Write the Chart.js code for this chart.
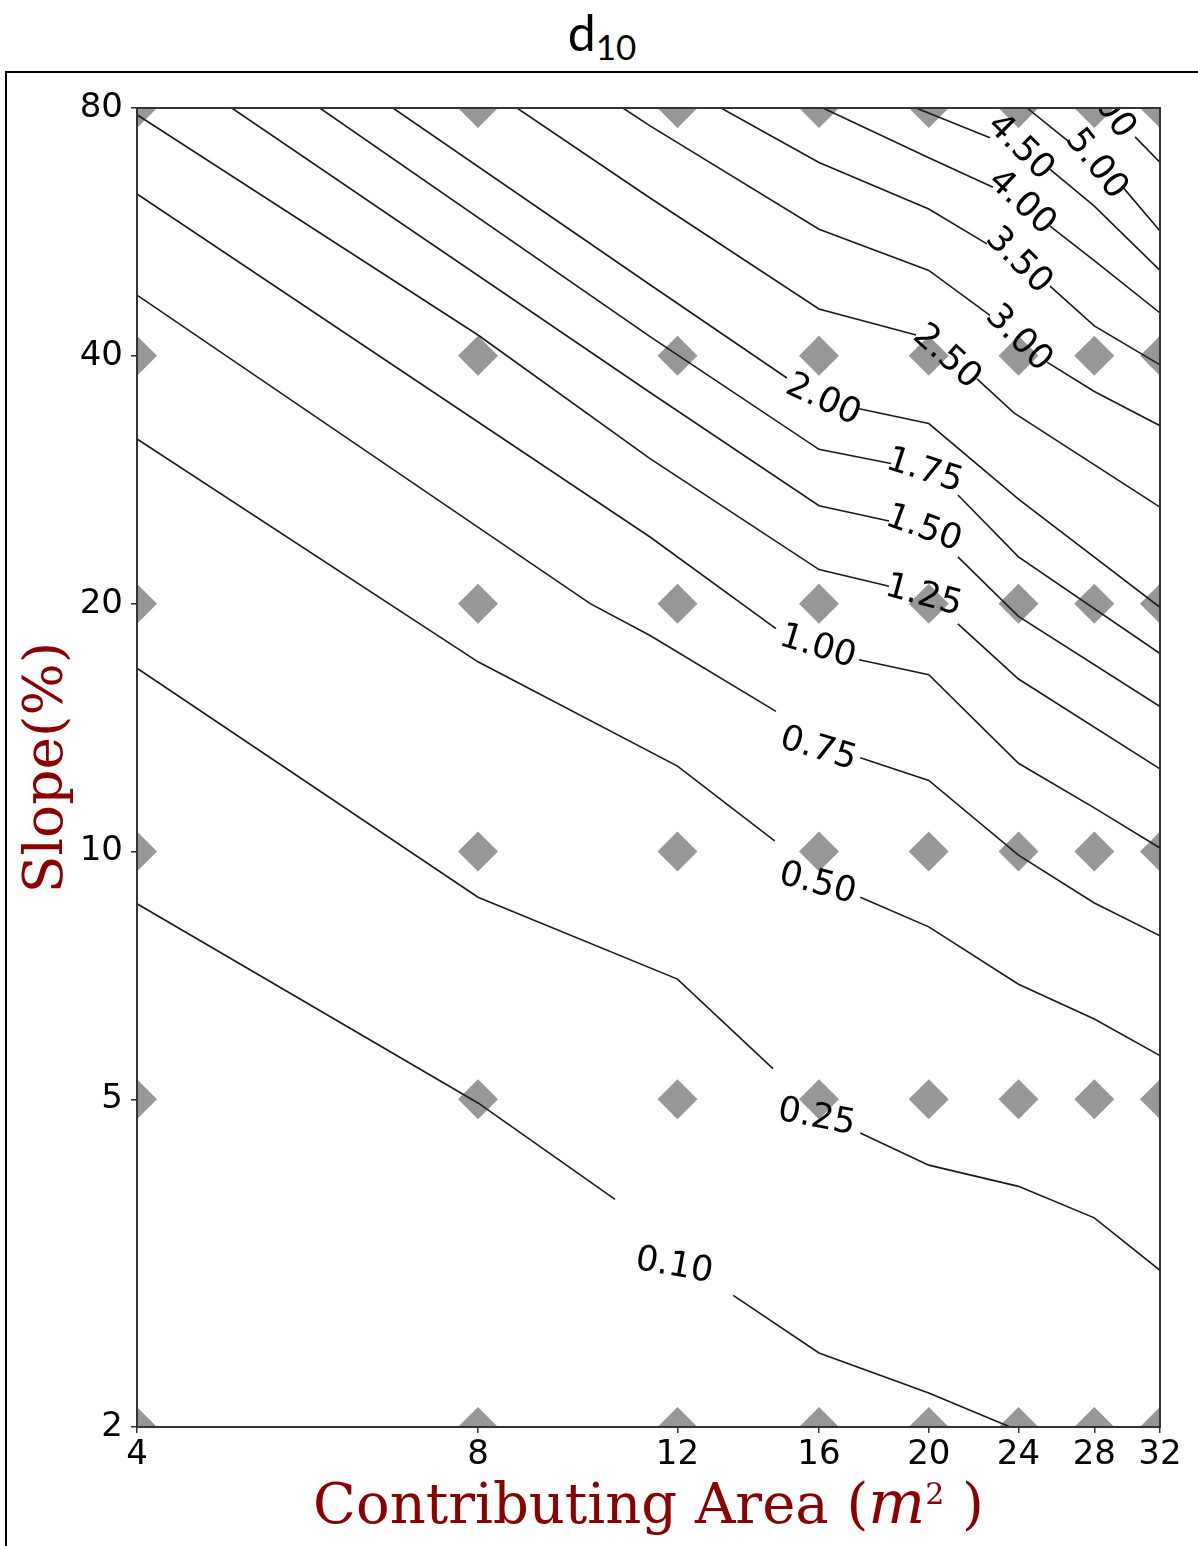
<!DOCTYPE html>
<html>
<head>
<meta charset="utf-8">
<script src="https://cdn.jsdelivr.net/npm/chart.js@4.4.1/dist/chart.umd.min.js"></script>
<style>
  html, body { margin: 0; padding: 0; background: #fff; width: 1198px; height: 1546px; overflow: hidden; position: relative; }
  #title { position: absolute; left: 0; width: 1204px; top: 2px; text-align: center; font-family: Lato, "Open Sans", sans-serif; font-size: 50px; line-height: 60px; color: #000; }
  #title .sub { font-size: 35px; position: relative; top: 9px; }
  #frame { position: absolute; left: 5px; top: 71px; width: 1400px; height: 1600px; border-top: 2px solid #000; border-left: 2px solid #000; }
  #chart { position: absolute; left: 0; top: 0; }
</style>
</head>
<body>
<div id="title">d<span class="sub">10</span></div>
<div id="frame"></div>
<canvas id="chart" width="1198" height="1546"></canvas>
<script>
// axes
const areaTicks = [4, 8, 12, 16, 20, 24, 28, 32];
const slopeTicks = [2, 5, 10, 20, 40, 80];

// sample points (grey diamonds)
const areaGrid = [4, 8, 12, 16, 20, 24, 28, 32];
const slopeGrid = [2, 5, 10, 20, 40, 80];

// contour levels of d10
const levels = ['0.10', '0.25', '0.50', '0.75', '1.00', '1.25', '1.50', '1.75', '2.00', '2.50', '3.00', '3.50', '4.00', '4.50', '5.00', '6.00'];

// contour vertices as [area, slope]; null = where the inline label cuts the line
const c010 = [[4, 8.64], [8, 4.95], [10.57, 3.78], null, [13.44, 2.89], [16, 2.46], [20, 2.20], [23.6, 2.0]];
const c025 = [[4, 16.7], [8, 8.8], [12, 7.0], [14.57, 5.45], null, [17.4, 4.55], [20, 4.16], [24, 3.92], [28, 3.59], [32, 3.10]];
const c050 = [[4, 31.7], [8, 17.0], [12, 12.7], [14.62, 10.3], null, [17.4, 8.8], [20, 8.1], [24, 6.9], [28, 6.26], [32, 5.65]];
const c075 = [[4, 47.4], [10.05, 20.0], [11.35, 18.3], [14.66, 14.8], null, [17.4, 13.0], [20, 12.2], [24, 9.9], [28, 8.66], [32, 7.9]];
const c100 = [[4, 62.9], [11.35, 24.1], [14.66, 18.65], null, [17.36, 17.1], [20, 16.4], [24, 12.8], [28, 11.3], [32, 10.1]];
const c125 = [[4, 78.5], [8, 42.4], [11.35, 30.0], [16, 22.0], [18.45, 21.0], null, [21.22, 18.9], [24, 16.2], [32, 12.6]];
const c150 = [[4.85, 80], [11.35, 36.1], [16, 26.3], [18.45, 25.2], null, [21.22, 22.8], [24, 19.3], [32, 15.0]];
const c175 = [[5.80, 80], [11.35, 42.2], [16, 30.8], [18.52, 29.6], null, [21.22, 27.1], [24, 22.8], [32, 17.4]];
const c200 = [[6.73, 80], [11.35, 48.8], [14.99, 37.6], null, [17.36, 34.5], [20, 33.1], [24, 26.8], [32, 19.8]];
const c250 = [[8.66, 80], [11.35, 62.2], [16, 45.6], [19.49, 42.4], null, [22.06, 37.5], [23.78, 34.1], [32, 26.2]];
const c300 = [[10.74, 80], [11.35, 76.1], [16, 57.0], [20, 50.8], [22.65, 44.8], null, [25.43, 39.3], [28, 36.2], [32, 32.9]];
const c350 = [[13.11, 80], [16, 68.7], [20, 60.3], [22.51, 54.7], null, [25.59, 48.6], [28, 43.5], [32, 39.0]];
const c400 = [[16.13, 80], [20, 69.6], [22.79, 64.1], null, [25.59, 57.5], [28, 52.2], [32, 45.1]];
const c450 = [[19.49, 80], [22.65, 73.6], null, [25.59, 67.4], [28, 60.8], [32, 50.8]];
const c500 = [[24.42, 80], [26.65, 72.6], null, [29.62, 64.3], [32, 56.7]];
const c600 = [[26.9, 89.1], null, [30.42, 73.8], [32, 68.7]];

const contours = [c010, c025, c050, c075, c100, c125, c150, c175, c200, c250, c300, c350, c400, c450, c500, c600];

// label look: rotation (deg) and small vertical nudge (px)
const labelAngle = [10, 11, 15, 17, 17, 15, 20, 18, 25, 42, 45, 45, 43, 45, 52, 55];
const labelNudge = [19, 17, 15, 15, 3, -9, -10, -8, 7, 0, 0, -4, -4, -6, 0, 0];

const RED = '#8b0000';
const SPINE = '#333';

const markers = slopeGrid.flatMap(s => areaGrid.map(a => ({ x: a, y: s })));

const datasets = [{
  data: markers,
  pointStyle: 'rectRot',
  pointRadius: 20,
  pointHoverRadius: 20,
  backgroundColor: '#979797',
  borderWidth: 0,
  showLine: false,
  clip: 0,
  order: 2
}];
contours.forEach(pts => datasets.push({
  data: pts.map(p => p ? { x: p[0], y: p[1] } : { x: NaN, y: null }),
  showLine: true,
  borderColor: '#1a1a1a',
  borderWidth: 1.6,
  pointRadius: 0,
  pointHoverRadius: 0,
  spanGaps: false,
  tension: 0,
  clip: 0,
  order: 1
}));

// contour labels in the gaps
const inlineLabels = {
  id: 'inlineLabels',
  afterDatasetsDraw(chart) {
    const { ctx, chartArea: a } = chart;
    ctx.save();
    ctx.beginPath();
    ctx.rect(a.left, a.top, a.right - a.left, a.bottom - a.top);
    ctx.clip();
    ctx.font = '35px "DejaVu Sans"';
    ctx.fillStyle = '#000';
    ctx.textAlign = 'center';
    ctx.textBaseline = 'middle';
    contours.forEach((pts, i) => {
      const g = pts.indexOf(null);
      const meta = chart.getDatasetMeta(i + 1);
      const p0 = meta.data[g - 1], p1 = meta.data[g + 1];
      const cx = (p0.x + p1.x) / 2, cy = (p0.y + p1.y) / 2 + labelNudge[i];
      ctx.save();
      ctx.translate(cx, cy);
      ctx.rotate(labelAngle[i] * Math.PI / 180);
      ctx.fillText(levels[i], 0, 0);
      ctx.restore();
    });
    ctx.restore();
  }
};

// spines + x-axis title with math part
const frameAndTitle = {
  id: 'frameAndTitle',
  afterDraw(chart) {
    const { ctx, chartArea: a } = chart;
    ctx.save();
    ctx.strokeStyle = SPINE;
    ctx.lineWidth = 2;
    ctx.strokeRect(a.left, a.top, a.right - a.left, a.bottom - a.top);

    const parts = [
      { t: 'Contributing Area (', f: '56px "DejaVu Serif"', dy: 0 },
      { t: 'm', f: 'italic 60px "DejaVu Serif"', dy: 0 },
      { t: '2', f: '30px "DejaVu Serif"', dy: -19 },
      { t: ' )', f: '56px "DejaVu Serif"', dy: 0 }
    ];
    let total = 0;
    parts.forEach(p => { ctx.font = p.f; p.w = ctx.measureText(p.t).width; total += p.w; });
    let x = (a.left + a.right) / 2 - total / 2;
    const base = 1523;
    ctx.fillStyle = RED;
    ctx.textAlign = 'left';
    ctx.textBaseline = 'alphabetic';
    parts.forEach(p => { ctx.font = p.f; ctx.fillText(p.t, x, base + p.dy); x += p.w; });
    ctx.restore();
  }
};

Chart.defaults.font.family = '"DejaVu Sans"';

new Chart(document.getElementById('chart'), {
  type: 'scatter',
  data: { datasets },
  options: {
    responsive: false,
    animation: false,
    events: [],
    layout: { padding: { top: 108, right: 38, left: 0, bottom: 0 } },
    plugins: { legend: { display: false }, tooltip: { enabled: false } },
    scales: {
      x: {
        type: 'logarithmic',
        min: 4,
        max: 32,
        afterBuildTicks: s => { s.ticks = areaTicks.map(v => ({ value: v })); },
        afterFit: s => { s.height = 119; s.paddingLeft = 0; s.paddingRight = 0; },
        ticks: { autoSkip: false, maxRotation: 0, minRotation: 0, color: '#000', font: { size: 34 }, padding: 2, callback: v => String(v) },
        grid: { display: true, drawOnChartArea: false, drawTicks: true, tickLength: 6, color: SPINE, lineWidth: 1.5 },
        border: { display: true, color: SPINE, width: 2 }
      },
      y: {
        type: 'logarithmic',
        min: 2,
        max: 80,
        afterBuildTicks: s => { s.ticks = slopeTicks.map(v => ({ value: v })); },
        afterFit: s => { s.width = 137; s.paddingTop = 0; s.paddingBottom = 0; },
        ticks: { autoSkip: false, color: '#000', font: { size: 34 }, padding: 8, callback: v => String(v) },
        grid: { display: true, drawOnChartArea: false, drawTicks: true, tickLength: 6, color: SPINE, lineWidth: 1.5 },
        border: { display: true, color: SPINE, width: 2 },
        title: { display: true, text: 'Slope(%)', color: RED, font: { family: '"DejaVu Serif"', size: 55 }, padding: { top: 15, bottom: 0 } }
      }
    }
  },
  plugins: [inlineLabels, frameAndTitle]
});
</script>
</body>
</html>
